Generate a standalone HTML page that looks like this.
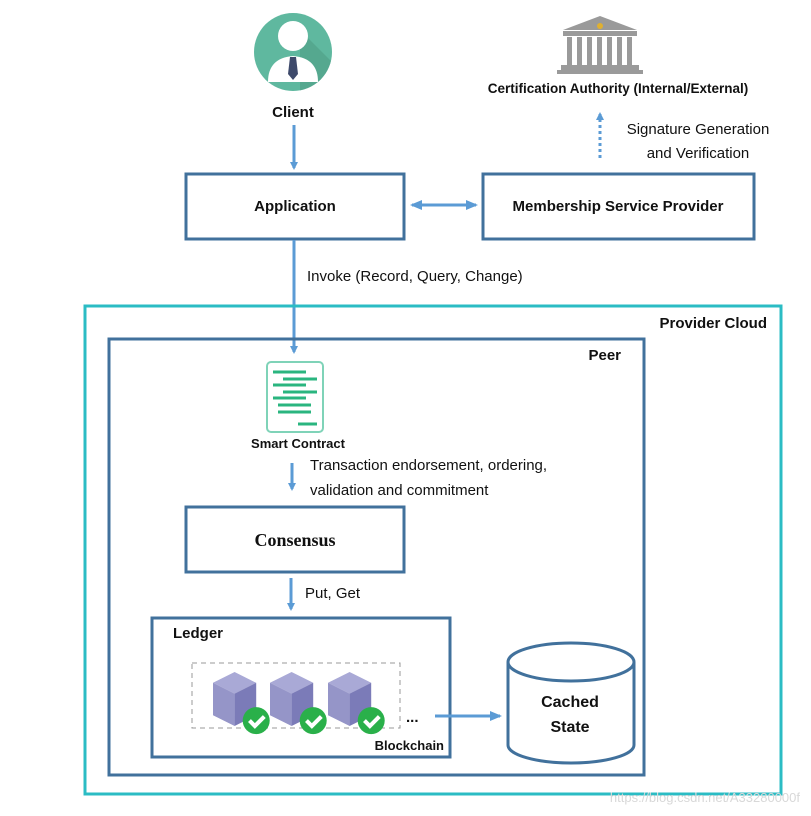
<!DOCTYPE html>
<html><head><meta charset="utf-8"><style>
html,body{margin:0;padding:0;background:#fff;}
svg{display:block;}
text{font-family:"Liberation Sans",sans-serif;fill:#111;}
.b{font-weight:bold;}
</style></head><body>
<svg width="811" height="816" viewBox="0 0 811 816" xmlns="http://www.w3.org/2000/svg">
<defs>
<marker id="ah" markerWidth="8" markerHeight="8" refX="6" refY="4" orient="auto" markerUnits="userSpaceOnUse">
<path d="M0,0 L8,4 L0,8 Z" fill="#5b9bd5"/></marker>
<marker id="ah2" markerWidth="12" markerHeight="10" refX="10" refY="5" orient="auto" markerUnits="userSpaceOnUse">
<path d="M0,0 L12,5 L0,10 Z" fill="#5b9bd5"/></marker>
<marker id="ahs" markerWidth="12" markerHeight="10" refX="2" refY="5" orient="auto" markerUnits="userSpaceOnUse">
<path d="M12,0 L0,5 L12,10 Z" fill="#5b9bd5"/></marker>
<clipPath id="cc"><circle cx="293" cy="52" r="39"/></clipPath>
<g id="cube"><path d="M0,8 L16,0 L32,8 L16,16 Z" fill="#a9a9d6"/><path d="M0,8 L16,16 L16,40 L0,32 Z" fill="#9595c8"/><path d="M16,16 L32,8 L32,32 L16,40 Z" fill="#7b7bb8"/><circle cx="32" cy="36" r="10" fill="#2ab04a"/><path d="M27,36 L31,40 L38,33" fill="none" stroke="#fff" stroke-width="3"/></g>
</defs>
<circle cx="293" cy="52" r="39" fill="#5fb89f"/>
<g clip-path="url(#cc)">
<path d="M300,30 L340,70 L340,100 L300,100 Z" fill="#4e9d86" opacity="0.6"/>
<circle cx="293" cy="36" r="15" fill="#fff"/>
<path d="M268,82 Q268,58 293,56 Q318,58 318,82 Z" fill="#fff"/>
<path d="M290,57 L296,57 L298,74 L293,80 L288,74 Z" fill="#3e4a6b"/>
</g>
<text x="293" y="117" class="b" font-size="15" text-anchor="middle">Client</text>
<line x1="294" y1="125" x2="294" y2="168" stroke="#5b9bd5" stroke-width="3" marker-end="url(#ah)"/>
<g fill="#9a9a9a">
<path d="M563,30 L600,16 L637,30 Z"/>
<rect x="563" y="31" width="74" height="5"/>
<rect x="567" y="37" width="5" height="28"/><rect x="577" y="37" width="5" height="28"/>
<rect x="587" y="37" width="5" height="28"/><rect x="597" y="37" width="5" height="28"/>
<rect x="607" y="37" width="5" height="28"/><rect x="617" y="37" width="5" height="28"/>
<rect x="627" y="37" width="5" height="28"/>
<rect x="561" y="65" width="78" height="5"/>
<rect x="557" y="70" width="86" height="4"/>
</g>
<circle cx="600" cy="26" r="3" fill="#e0b030"/>
<text x="618" y="93" class="b" font-size="13.5" text-anchor="middle">Certification Authority (Internal/External)</text>
<line x1="600" y1="158" x2="600" y2="114" stroke="#5b9bd5" stroke-width="3" stroke-dasharray="3,3" marker-end="url(#ah)"/>
<text x="698" y="134" font-size="15" text-anchor="middle">Signature Generation</text>
<text x="698" y="158" font-size="15" text-anchor="middle">and Verification</text>
<rect x="186" y="174" width="218" height="65" fill="none" stroke="#41719c" stroke-width="3"/>
<text x="295" y="211" class="b" font-size="15" text-anchor="middle">Application</text>
<rect x="483" y="174" width="271" height="65" fill="none" stroke="#41719c" stroke-width="3"/>
<text x="618" y="211" class="b" font-size="15" text-anchor="middle">Membership Service Provider</text>
<line x1="412" y1="205" x2="476" y2="205" stroke="#5b9bd5" stroke-width="3" marker-start="url(#ahs)" marker-end="url(#ah2)"/>
<line x1="294" y1="240" x2="294" y2="352" stroke="#5b9bd5" stroke-width="3" marker-end="url(#ah)"/>
<text x="307" y="281" font-size="15">Invoke (Record, Query, Change)</text>
<rect x="85" y="306" width="696" height="488" fill="none" stroke="#2bbcc4" stroke-width="3"/>
<text x="767" y="328" class="b" font-size="15" text-anchor="end">Provider Cloud</text>
<rect x="109" y="339" width="535" height="436" fill="none" stroke="#41719c" stroke-width="3"/>
<text x="621" y="360" class="b" font-size="15" text-anchor="end">Peer</text>
<rect x="267" y="362" width="56" height="70" rx="4" fill="#fff" stroke="#7fd3b8" stroke-width="2"/>
<g stroke="#2ab57f" stroke-width="3">
<line x1="273" y1="372" x2="306" y2="372"/><line x1="283" y1="379" x2="317" y2="379"/>
<line x1="273" y1="385" x2="306" y2="385"/><line x1="283" y1="392" x2="317" y2="392"/>
<line x1="273" y1="398" x2="306" y2="398"/><line x1="278" y1="405" x2="311" y2="405"/>
<line x1="278" y1="412" x2="311" y2="412"/><line x1="298" y1="424" x2="317" y2="424"/>
</g>
<text x="298" y="448" class="b" font-size="13" text-anchor="middle">Smart Contract</text>
<line x1="292" y1="463" x2="292" y2="489" stroke="#5b9bd5" stroke-width="3" marker-end="url(#ah)"/>
<text x="310" y="470" font-size="15">Transaction endorsement, ordering,</text>
<text x="310" y="495" font-size="15">validation and commitment</text>
<rect x="186" y="507" width="218" height="65" fill="none" stroke="#41719c" stroke-width="3"/>
<text x="295" y="546" font-weight="bold" font-size="18" text-anchor="middle" style="font-family:'Liberation Serif',serif">Consensus</text>
<line x1="291" y1="578" x2="291" y2="609" stroke="#5b9bd5" stroke-width="3" marker-end="url(#ah)"/>
<text x="305" y="598" font-size="15">Put, Get</text>
<rect x="152" y="618" width="298" height="139" fill="none" stroke="#41719c" stroke-width="3"/>
<text x="173" y="638" class="b" font-size="15">Ledger</text>
<rect x="192" y="663" width="208" height="65" fill="none" stroke="#999" stroke-width="1" stroke-dasharray="5,4"/>
<use href="#cube" transform="translate(213,672) scale(1.35)"/>
<use href="#cube" transform="translate(270,672) scale(1.35)"/>
<use href="#cube" transform="translate(328,672) scale(1.35)"/>
<text x="406" y="722" class="b" font-size="15">...</text>
<text x="444" y="750" class="b" font-size="13" text-anchor="end">Blockchain</text>
<line x1="435" y1="716" x2="500" y2="716" stroke="#5b9bd5" stroke-width="3" marker-end="url(#ah2)"/>
<path d="M508,662 L508,745 A63,18 0 0 0 634,745 L634,662" fill="#fff" stroke="#41719c" stroke-width="3"/>
<ellipse cx="571" cy="662" rx="63" ry="19" fill="#fff" stroke="#41719c" stroke-width="3"/>
<text x="570" y="707" class="b" font-size="16" text-anchor="middle">Cached</text>
<text x="570" y="732" class="b" font-size="16" text-anchor="middle">State</text>
<text x="800" y="802" font-size="13" text-anchor="end" style="fill:#d8d8d8">https://blog.csdn.net/A33280000f</text>
</svg>
</body></html>
